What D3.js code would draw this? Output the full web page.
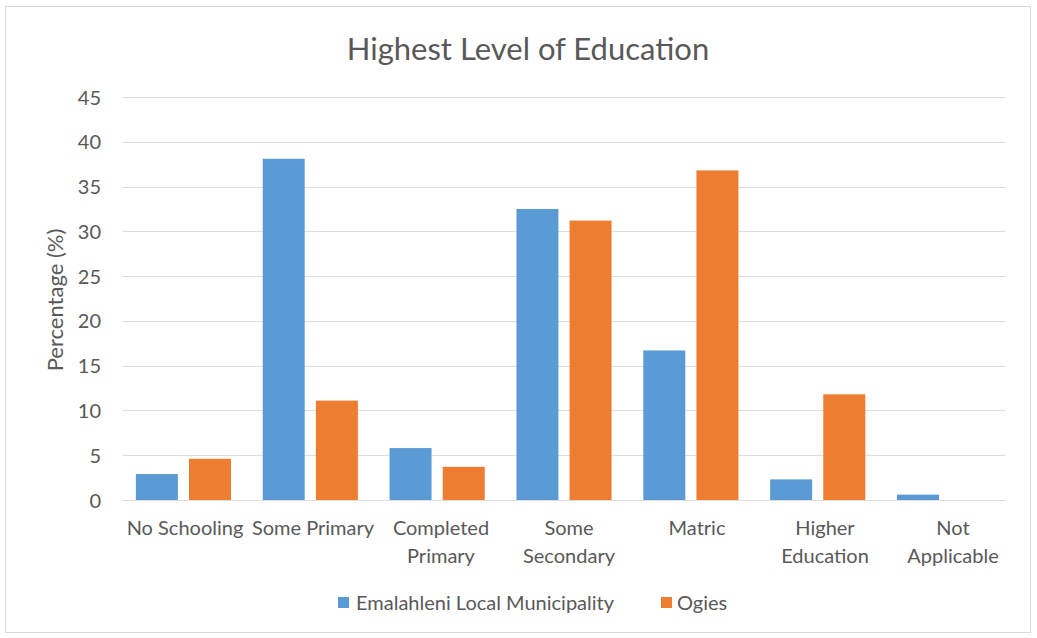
<!DOCTYPE html>
<html><head><meta charset="utf-8">
<script src="https://cdn.jsdelivr.net/npm/d3@7"></script>
<style>body{margin:0;background:#fff}svg{display:block}text{font-family:Lato,"Open Sans",sans-serif}</style>
</head><body><svg id="c" width="1037" height="638"></svg>
<script>
const categories = [["No Schooling"],["Some Primary"],["Completed","Primary"],["Some","Secondary"],["Matric"],["Higher","Education"],["Not","Applicable"]];
const seriesNames = ["Emalahleni Local Municipality","Ogies"];
const emalahleni = [2.9, 38.1, 5.8, 32.5, 16.7, 2.3, 0.6];
const ogies = [4.6, 11.1, 3.7, 31.2, 36.8, 11.8, 0];
const yTicks = [0,5,10,15,20,25,30,35,40,45];
const colors = ["#5b9bd5","#ed7d31"];

const svg = d3.select("#c");
const txt = "#595959";
svg.append("rect").attr("x",5.5).attr("y",6.5).attr("width",1025).attr("height",626).attr("fill","#fff").attr("stroke","#d9d9d9");

const keys = categories.map(c=>c.join(" "));
const x0 = d3.scaleBand().domain(keys).range([120,1008]).paddingInner(0.25).paddingOuter(0.125);
const x1 = d3.scaleBand().domain(seriesNames).range([0,x0.bandwidth()]).paddingInner(0.21);
const xl = d3.scaleBand().domain(keys).range([121,1017]);
const y = d3.scaleLinear().domain([0,45]).range([500,97]);

// grid
svg.append("g").selectAll("line").data(yTicks).join("line")
  .attr("x1",123).attr("x2",1005).attr("y1",d=>Math.round(y(d))+0.5).attr("y2",d=>Math.round(y(d))+0.5)
  .attr("stroke","#dedede").attr("stroke-width",1);

// y axis
const ya = d3.axisLeft(y).tickValues(yTicks).tickSize(0).tickPadding(0);
const yg = svg.append("g").attr("transform","translate(101,0)").call(ya);
yg.select(".domain").remove();
yg.selectAll("text").attr("fill",txt).style("font-size","20px").attr("dy","0.35em");

// bars
const data = [emalahleni, ogies];
keys.forEach((k,i)=>{
  seriesNames.forEach((s,j)=>{
    svg.append("rect").attr("x",x0(k)+x1(s)).attr("width",x1.bandwidth())
      .attr("y",y(data[j][i])).attr("height",y(0)-y(data[j][i])).attr("fill",colors[j]);
  });
});

// x labels
categories.forEach((c,i)=>{
  const cx = xl(keys[i])+xl.bandwidth()/2;
  const t = svg.append("text").attr("x",cx).attr("y",535)
    .attr("text-anchor","middle").attr("fill",txt).style("font-size","20px");
  c.forEach((line,li)=>t.append("tspan").attr("x",cx).attr("dy",li?28:0).text(line));
});

// title
svg.append("text").attr("x",528).attr("y",60).attr("text-anchor","middle").attr("fill",txt)
  .style("font-size","31px").text("Highest Level of Education");
// y title
svg.append("text").attr("transform","translate(63,300) rotate(-90)").attr("text-anchor","middle")
  .attr("fill",txt).style("font-size","22px").text("Percentage (%)");

// legend
const leg = [{x:338,tx:356},{x:661,tx:677}];
seriesNames.forEach((s,j)=>{
  svg.append("rect").attr("x",leg[j].x).attr("y",597).attr("width",11).attr("height",11).attr("fill",colors[j]);
  svg.append("text").attr("x",leg[j].tx).attr("y",610).attr("fill",txt).style("font-size","20px").text(s);
});
</script></body></html>
